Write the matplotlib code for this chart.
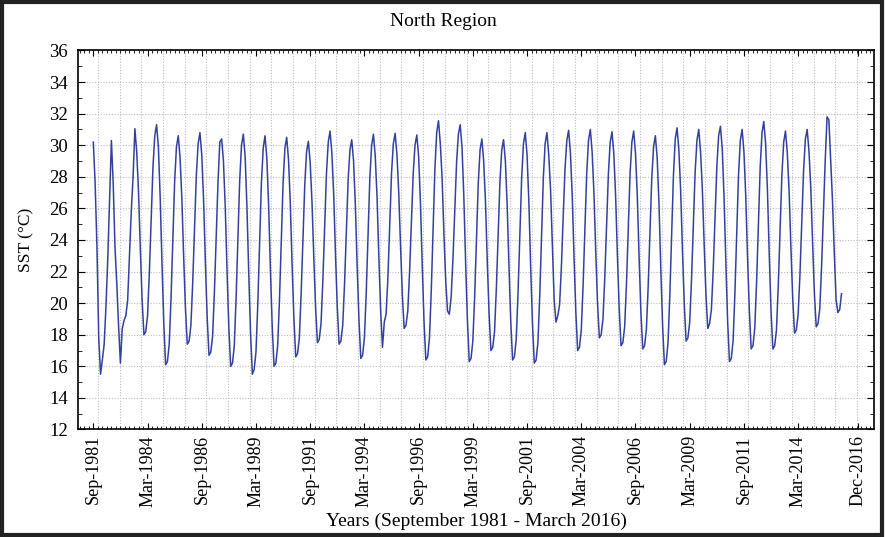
import numpy as np
import matplotlib
matplotlib.use("Agg")
import matplotlib.pyplot as plt
from matplotlib.patches import Rectangle
from matplotlib.ticker import MultipleLocator

plt.rcParams['font.family'] = ['Liberation Serif', 'DejaVu Serif']

# monthly mean SST (deg C), Sep 1981 .. Mar 2016
sst_1981 = [30.2, 27.6, 23.6, 17.8]
sst_1982 = [15.5, 16.4, 17.4, 19.8, 22.8, 26.6, 30.3, 27.6, 23.5, 21.2, 18.5, 16.2]
sst_1983 = [18.4, 18.9, 19.2, 20.2, 23.0, 25.8, 28.0, 31.05, 29.6, 27.1, 23.5, 20.2]
sst_1984 = [18.0, 18.2, 19.2, 21.9, 25.3, 28.6, 30.6, 31.3, 29.9, 26.7, 22.5, 18.7]
sst_1985 = [16.1, 16.3, 17.4, 20.3, 24.1, 27.7, 29.9, 30.6, 29.2, 26.6, 22.9, 19.6]
sst_1986 = [17.4, 17.6, 18.6, 21.3, 24.8, 28.1, 30.1, 30.8, 29.4, 26.6, 22.6, 19.1]
sst_1987 = [16.7, 16.9, 17.9, 20.7, 24.2, 27.7, 30.2, 30.4, 29.0, 26.1, 22.0, 18.4]
sst_1988 = [16.0, 16.2, 17.3, 20.3, 24.1, 27.8, 30.0, 30.7, 29.3, 26.1, 21.9, 18.1]
sst_1989 = [15.5, 15.8, 16.9, 19.9, 23.8, 27.6, 29.8, 30.6, 29.2, 26.2, 22.1, 18.5]
sst_1990 = [16.0, 16.2, 17.3, 20.2, 24.0, 27.6, 29.8, 30.5, 29.1, 26.3, 22.4, 19.0]
sst_1991 = [16.6, 16.8, 17.8, 20.6, 24.1, 27.5, 29.6, 30.25, 28.9, 26.4, 22.9, 19.7]
sst_1992 = [17.5, 17.7, 18.7, 21.4, 24.9, 28.2, 30.2, 30.9, 29.5, 26.9, 23.1, 19.7]
sst_1993 = [17.4, 17.6, 18.6, 21.2, 24.5, 27.8, 29.7, 30.35, 29.0, 26.2, 22.3, 18.9]
sst_1994 = [16.5, 16.7, 17.8, 20.6, 24.3, 27.9, 30.0, 30.7, 29.3, 26.7, 22.9, 19.5]
sst_1995 = [17.2, 18.8, 19.3, 21.6, 24.9, 28.2, 30.1, 30.75, 29.4, 27.0, 23.6, 20.5]
sst_1996 = [18.4, 18.6, 19.5, 22.0, 25.1, 28.2, 30.0, 30.65, 29.3, 26.4, 22.4, 18.8]
sst_1997 = [16.4, 16.6, 17.8, 20.8, 24.7, 28.5, 30.8, 31.55, 30.1, 27.9, 24.4, 21.4]
sst_1998 = [19.5, 19.3, 20.4, 22.8, 25.9, 28.9, 30.7, 31.3, 29.9, 26.8, 22.6, 18.9]
sst_1999 = [16.3, 16.5, 17.6, 20.4, 24.1, 27.6, 29.7, 30.4, 29.0, 26.4, 22.6, 19.3]
sst_2000 = [17.0, 17.2, 18.2, 20.9, 24.3, 27.7, 29.7, 30.35, 29.0, 26.2, 22.3, 18.8]
sst_2001 = [16.4, 16.6, 17.7, 20.6, 24.3, 27.9, 30.1, 30.8, 29.4, 26.4, 22.3, 18.7]
sst_2002 = [16.2, 16.4, 17.5, 20.4, 24.2, 27.9, 30.1, 30.8, 29.4, 27.2, 23.8, 20.2]
sst_2003 = [18.8, 19.2, 19.9, 22.3, 25.5, 28.5, 30.3, 30.95, 29.5, 26.8, 22.9, 19.4]
sst_2004 = [17.0, 17.2, 18.3, 21.1, 24.7, 28.2, 30.3, 31.0, 29.6, 27.0, 23.3, 20.0]
sst_2005 = [17.8, 18.0, 19.0, 21.6, 25.0, 28.2, 30.2, 30.85, 29.5, 26.8, 23.0, 19.6]
sst_2006 = [17.3, 17.5, 18.5, 21.2, 24.8, 28.2, 30.2, 30.9, 29.5, 26.8, 22.9, 19.4]
sst_2007 = [17.1, 17.3, 18.3, 21.0, 24.5, 27.9, 29.9, 30.6, 29.2, 26.3, 22.2, 18.6]
sst_2008 = [16.1, 16.3, 17.5, 20.5, 24.4, 28.1, 30.4, 31.1, 29.7, 27.1, 23.3, 19.9]
sst_2009 = [17.6, 17.8, 18.8, 21.5, 25.0, 28.3, 30.3, 31.0, 29.6, 27.2, 23.7, 20.5]
sst_2010 = [18.4, 18.7, 19.6, 22.1, 25.4, 28.6, 30.6, 31.2, 29.8, 26.7, 22.6, 18.8]
sst_2011 = [16.3, 16.5, 17.6, 20.6, 24.4, 28.1, 30.3, 31.0, 29.6, 26.8, 22.9, 19.5]
sst_2012 = [17.1, 17.3, 18.4, 21.3, 25.0, 28.6, 30.8, 31.5, 30.1, 27.2, 23.1, 19.5]
sst_2013 = [17.1, 17.3, 18.3, 21.1, 24.7, 28.1, 30.2, 30.9, 29.5, 27.1, 23.5, 20.3]
sst_2014 = [18.1, 18.3, 19.3, 21.8, 25.2, 28.4, 30.4, 31.0, 29.6, 27.3, 23.8, 20.6]
sst_2015 = [18.5, 18.7, 19.7, 22.4, 25.8, 29.1, 31.8, 31.6, 29.0, 26.5, 23.2, 20.2]
sst_2016 = [19.4, 19.6, 20.6]

tick_months = [0, 30, 60, 90, 120, 150, 180, 210, 240, 270, 300, 330, 360, 390, 423]
tick_labels = ['Sep-1981', 'Mar-1984', 'Sep-1986', 'Mar-1989', 'Sep-1991',
               'Mar-1994', 'Sep-1996', 'Mar-1999', 'Sep-2001', 'Mar-2004',
               'Sep-2006', 'Mar-2009', 'Sep-2011', 'Mar-2014', 'Dec-2016']

sst = np.concatenate([
    sst_1981, sst_1982, sst_1983, sst_1984, sst_1985, sst_1986, sst_1987,
    sst_1988, sst_1989, sst_1990, sst_1991, sst_1992, sst_1993, sst_1994,
    sst_1995, sst_1996, sst_1997, sst_1998, sst_1999, sst_2000, sst_2001,
    sst_2002, sst_2003, sst_2004, sst_2005, sst_2006, sst_2007, sst_2008,
    sst_2009, sst_2010, sst_2011, sst_2012, sst_2013, sst_2014, sst_2015,
    sst_2016])
months = np.arange(len(sst))

fig = plt.figure(figsize=(8.86, 5.37), dpi=100)
ax = fig.add_axes([0.0886, 0.2002, 0.8973, 0.7058])

# dotted grid: every 2 deg and once a year
for y in range(12, 37, 2):
    ax.axhline(y, color='#bdbdbd', lw=0.8, ls=(0, (1, 1.5)), zorder=0)
for k in range(36):
    ax.axvline(2.5 + 12 * k, color='#bdbdbd', lw=0.8, ls=(0, (1, 1.5)), zorder=0)

ax.plot(months, sst, color='#33419e', lw=1.1, zorder=2)

ax.set_xlim(-8.2, 431.7)
ax.set_ylim(12, 36)
ax.set_yticks(range(12, 37, 2))
ax.yaxis.set_minor_locator(MultipleLocator(1))
ax.set_xticks(tick_months)
ax.set_xticklabels(tick_labels, rotation=90, fontsize=13)
ax.xaxis.set_minor_locator(MultipleLocator(2.5))
ax.tick_params(axis='both', which='both', direction='in', top=True, right=True,
               colors='black')
ax.tick_params(axis='y', which='major', labelsize=13.5, pad=7.5, length=5)
ax.tick_params(axis='y', which='minor', length=3)
ax.tick_params(axis='x', which='major', length=4, pad=4)
ax.tick_params(axis='x', which='minor', length=2.5)
for s in ax.spines.values():
    s.set_linewidth(1.2)

fig.text(0.5, 1 - 22 / 537, 'North Region', fontsize=14, ha='center', va='center')
ax.set_ylabel('SST (°C)', fontsize=12.5, labelpad=11)
ax.set_xlabel('Years (September 1981 - March 2016)', fontsize=14, labelpad=4)

fig.patches.append(Rectangle((0.002, 0.003), 0.994, 0.994, transform=fig.transFigure,
                             fill=False, edgecolor='#222222', lw=3))

fig.savefig('out.png', dpi=100)
